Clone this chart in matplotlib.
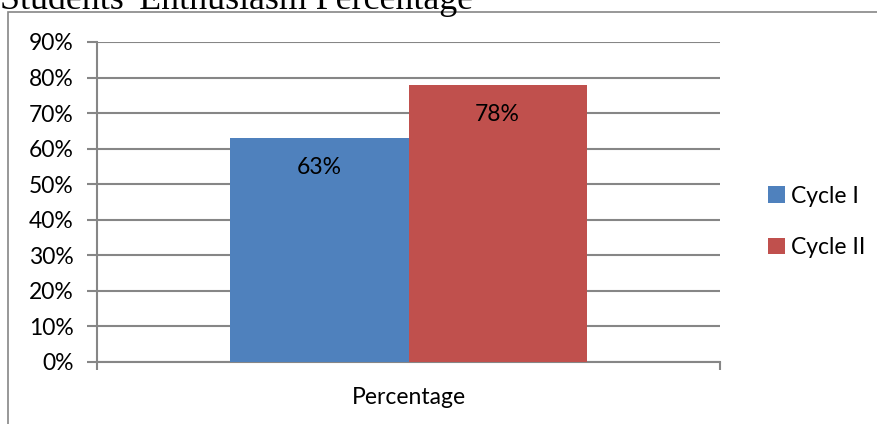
import matplotlib
matplotlib.use("Agg")
import matplotlib.pyplot as plt
from matplotlib.patches import Rectangle

# data
categories = ["Percentage"]
series_names = ["Cycle I", "Cycle II"]
cycle1 = [63]
cycle2 = [78]
colors = ["#4F81BD", "#C0504D"]
yticks = [0, 10, 20, 30, 40, 50, 60, 70, 80, 90]

plt.rcParams['font.family'] = ['Lato', 'DejaVu Sans']

W, H = 877, 424
fs = 16.5
fig = plt.figure(figsize=(W / 100, H / 100), dpi=100)
ax = fig.add_axes([97 / W, 1 - 362 / H, (720 - 97) / W, (362 - 42) / H])

gray = "#868686"
bw = 0.286
x0 = 0
vals = [cycle1, cycle2]
offs = [-bw / 2, bw / 2]
for k in range(2):
    bars = ax.bar([x0 + offs[k]], vals[k], width=bw, color=colors[k],
                  label=series_names[k], zorder=3)
    for b, v in zip(bars, vals[k]):
        ax.text(b.get_x() + b.get_width() / 2, v - 8.4, f"{v}%",
                ha="center", va="center", fontsize=fs, color="black", zorder=4)

ax.set_xlim(-0.5, 0.5)
ax.set_ylim(0, 90)
ax.set_yticks(yticks)
ax.set_yticklabels([f"{t}%" for t in yticks], fontsize=fs)
ax.yaxis.grid(True, color=gray, linewidth=1.5, zorder=0)
ax.set_xticks([0])
ax.set_xticklabels(categories, fontsize=fs)
ax.set_xticks([-0.5, 0.5], minor=True)
ax.tick_params(axis="x", which="major", length=0, pad=18)
ax.tick_params(axis="x", which="minor", length=6, width=1.5, color=gray, direction="out")
ax.tick_params(axis="y", length=7, width=1.5, color=gray, pad=10)
for s in ["top", "right"]:
    ax.spines[s].set_visible(False)
for s in ["left", "bottom"]:
    ax.spines[s].set_color(gray)
    ax.spines[s].set_linewidth(1.5)

leg = fig.legend(loc="center left", bbox_to_anchor=(757 / W, 1 - 222 / H),
                 frameon=False, fontsize=fs, handlelength=0.7, handleheight=0.7,
                 handletextpad=0.3, labelspacing=1.35, borderpad=0)

# outer chart frame (partly cut off)
fig.patches.append(Rectangle((8 / W, -0.1), 2, 1.1 - 12 / H, transform=fig.transFigure,
                             fill=False, edgecolor=gray, linewidth=1.2))

# title, cut at the top edge as in the source image
title = fig.text(0, 1 - 9 / H, "Students' Enthusiasm Percentage", ha="left",
                 va="baseline", fontsize=22, family=["Liberation Serif"])
fig.canvas.draw()
w = title.get_window_extent().width
title.set_fontsize(22 * 472 / w)

fig.savefig("out.png", dpi=100)
